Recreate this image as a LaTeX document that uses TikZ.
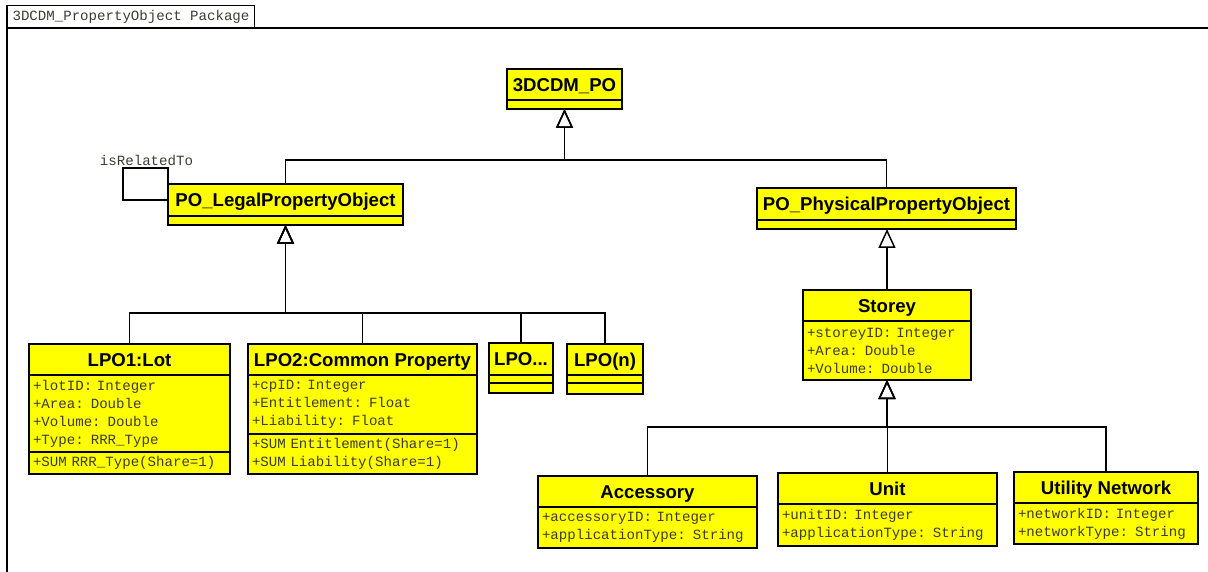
\documentclass[tikz,border=0pt]{standalone}
\usepackage{fontspec}
\usepackage{tikz}
\usetikzlibrary{arrows.meta,positioning}
\newfontfamily\clsfamily{Liberation Sans}
\newfontfamily\attrfamily{Liberation Mono}
\definecolor{umlyellow}{RGB}{255,255,0}
\definecolor{attrgray}{RGB}{60,60,50}
\tikzset{
  clshead/.style={draw, fill=umlyellow, line width=1.6pt, outer sep=0pt, inner sep=0pt,
    font=\clsfamily\bfseries\fontsize{18.6}{22}\selectfont, text height=13.5pt, text depth=0pt,
    anchor=north west, minimum height=31pt},
  clsbody/.style={draw, fill=umlyellow, line width=1.6pt, outer sep=0pt, inner xsep=4pt, inner ysep=0pt,
    font=\attrfamily\fontsize{14.1}{18}\selectfont, text=attrgray, align=left},
  gen/.style={line width=1.8pt, -{Triangle[open, length=19pt, width=17pt, line width=1.5pt]}},
  assoc/.style={line width=1.8pt},
  pkgframe/.style={line width=1.8pt}
}

\begin{document}
\begin{tikzpicture}[x=1pt, y=-1pt]
\useasboundingbox (0,0) rectangle (1208,572);

% Package frame
\node[draw, line width=1pt, anchor=north west, minimum width=247pt, minimum height=22pt, inner sep=0pt,
  font=\attrfamily\fontsize{14.1}{16}\selectfont, text=attrgray] (pkgtab) at (7,5) {3DCDM\_PropertyObject Package};
\draw[pkgframe] (pkgtab.south west) -- ++(1201,0);
\draw[pkgframe] (pkgtab.north west) -- ++(0,567);

% Top class
\node[clshead, minimum width=115pt] (pohead) at (507,69) {3DCDM\_PO};
\node[clsbody, text width=107pt, minimum height=9pt, below=0pt of pohead] (pobody) {};

% Legal and physical objects
\node[clshead, minimum width=235pt, minimum height=32pt] (legalhead) at (168,184) {PO\_LegalPropertyObject};
\node[clsbody, text width=227pt, minimum height=9pt, below=0pt of legalhead] (legalbody) {};
\node[clshead, minimum width=259pt, minimum height=32pt] (physhead) at (757,188) {PO\_PhysicalPropertyObject};
\node[clsbody, text width=251pt, minimum height=9pt, below=0pt of physhead] (physbody) {};

% Self association
\draw[assoc] (legalhead.west) -- ++(-45,0) |- ([yshift=16pt]legalhead.north west) -- (legalhead.north west);
\node[font=\attrfamily\fontsize{14.1}{16}\selectfont, text=attrgray, anchor=base] (rel) at (146.5,166) {isRelatedTo};

% Legal property objects
\node[clshead, minimum width=201pt] (lothead) at (29,344) {LPO1:Lot};
\node[clsbody, text width=193pt, minimum height=77pt, below=0pt of lothead] (lotattr)
  {+lotID: Integer\\+Area: Double\\+Volume: Double\\+Type: RRR\_Type};
\node[clsbody, text width=193pt, minimum height=22pt, below=0pt of lotattr] (lotops)
  {+SUM RRR\_Type(Share=1)};

\node[clshead, minimum width=229pt] (cphead) at (248,344) {LPO2:Common Property};
\node[clsbody, text width=221pt, minimum height=59pt, below=0pt of cphead] (cpattr)
  {+cpID: Integer\\+Entitlement: Float\\+Liability: Float};
\node[clsbody, text width=221pt, minimum height=40pt, below=0pt of cpattr] (cpops)
  {+SUM Entitlement(Share=1)\\+SUM Liability(Share=1)};

\node[clshead, minimum width=64pt, minimum height=32pt] (lpodots) at (489,343) {LPO...};
\node[clsbody, text width=56pt, minimum height=8pt, below=0pt of lpodots] (lpodotsattr) {};
\node[clsbody, text width=56pt, minimum height=10pt, below=0pt of lpodotsattr] (lpodotsops) {};

\node[clshead, minimum width=76pt] (lpon) at (567,344) {LPO(n)};
\node[clsbody, text width=68pt, minimum height=8pt, below=0pt of lpon] (lponattr) {};
\node[clsbody, text width=68pt, minimum height=11pt, below=0pt of lponattr] (lponops) {};

% Physical property objects
\node[clshead, minimum width=168pt] (storeyhead) at (803,290) {Storey};
\node[clsbody, text width=160pt, minimum height=59pt, below=0pt of storeyhead] (storeybody)
  {+storeyID: Integer\\+Area: Double\\+Volume: Double};

\node[clshead, minimum width=219pt] (acchead) at (538,476) {Accessory};
\node[clsbody, text width=211pt, minimum height=41pt, below=0pt of acchead] (accbody)
  {+accessoryID: Integer\\+applicationType: String};
\node[clshead, minimum width=219pt] (unithead) at (778,473) {Unit};
\node[clsbody, text width=211pt, minimum height=42pt, below=0pt of unithead] (unitbody)
  {+unitID: Integer\\+applicationType: String};
\node[clshead, minimum width=184pt] (nethead) at (1014,472) {Utility Network};
\node[clsbody, text width=176pt, minimum height=41pt, below=0pt of nethead] (netbody)
  {+networkID: Integer\\+networkType: String};

% Generalizations
\coordinate (potree) at (564.5,160);
\draw[gen] (legalhead.north) |- (potree) -- (pobody.south);
\draw[gen] (physhead.north) |- (potree) -- (pobody.south);

\coordinate (lpotree) at (285.5,313);
\foreach \c in {lothead,cphead,lpodots,lpon}
  \draw[gen] (\c.north) |- (lpotree) -- (legalbody.south);

\draw[gen] (storeyhead.north) -- (storeyhead.north |- physbody.south);

\coordinate (sttree) at (887,427);
\foreach \c in {acchead,unithead,nethead}
  \draw[gen] (\c.north) |- (sttree) -- (storeybody.south);
\end{tikzpicture}
\end{document}
